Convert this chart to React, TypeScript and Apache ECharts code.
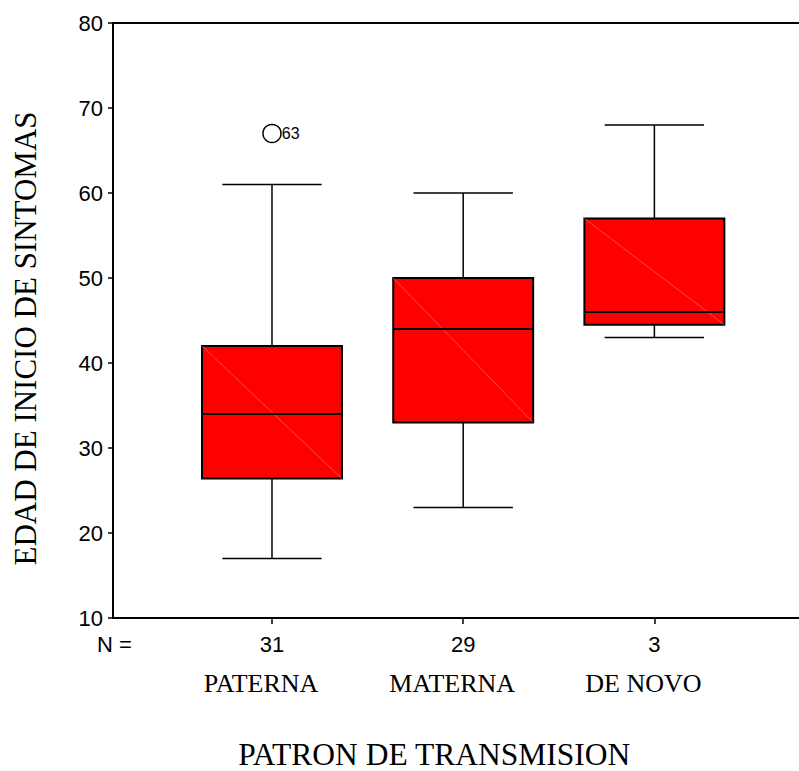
import React, { useEffect, useRef } from "react";
import * as echarts from "echarts";

const categories = ["PATERNA", "MATERNA", "DE NOVO"];
const counts = [31, 29, 3];
const whiskerLow = [17, 23, 43];
const quartile1 = [26.4, 33, 44.5];
const medians = [34, 44, 46];
const quartile3 = [42, 50, 57];
const whiskerHigh = [61, 60, 68];
const outlierGroup = [0];
const outlierValues = [67];
const outlierCases = ["63"];
const yMin = 10;
const yMax = 80;
const yStep = 10;

const SANS = "'Liberation Sans', Arial, sans-serif";
const SERIF = "'Liberation Serif', 'Times New Roman', serif";

export default function App() {
  const ref = useRef<HTMLDivElement>(null);

  useEffect(() => {
    if (!ref.current) return;
    const chart = echarts.init(ref.current, undefined, { renderer: "svg" });

    const boxData = categories.map((_, i) => [
      i,
      whiskerLow[i],
      quartile1[i],
      medians[i],
      quartile3[i],
      whiskerHigh[i],
    ]);
    const outlierData = outlierGroup.map((g, i) => ({
      value: [g, outlierValues[i]],
      name: outlierCases[i],
    }));

    const xMin = -0.8316;
    const xMax = 2.7564;
    const frameLine = { show: true, onZero: false, lineStyle: { color: "#000", width: 2 } };

    const option: any = {
      animation: false,
      backgroundColor: "#fff",
      grid: [
        { left: 113, right: 0, top: 23, height: 595, outerBoundsMode: "none", containLabel: false },
        { left: 176.4, top: 23, width: 573.6, height: 595, outerBoundsMode: "none", containLabel: false },
      ],
      xAxis: [
        {
          gridIndex: 0,
          type: "value",
          min: xMin,
          max: xMax,
          position: "bottom",
          axisLine: frameLine,
          axisTick: { show: false },
          axisLabel: { show: false },
          splitLine: { show: false },
        },
        {
          gridIndex: 1,
          type: "category",
          data: categories,
          axisLine: { show: false },
          axisTick: {
            show: true,
            alignWithLabel: true,
            length: 6,
            lineStyle: { color: "#000", width: 1.5 },
          },
          axisLabel: {
            margin: 14,
            interval: 0,
            formatter: (value: string, index: number) =>
              `{n|${counts[index]}}\n{c|${value}}`,
            rich: {
              n: {
                fontFamily: SANS,
                fontSize: 22,
                color: "#000",
                lineHeight: 24,
                align: "center",
              },
              c: {
                fontFamily: SERIF,
                fontSize: 26,
                color: "#000",
                lineHeight: 55,
                align: "center",
                padding: [0, 22, 0, 0],
              },
            },
          },
          name: "PATRON DE TRANSMISION",
          nameLocation: "middle",
          nameGap: 123,
          nameTextStyle: {
            fontFamily: SERIF,
            fontSize: 31.5,
            lineHeight: 26,
            color: "#000",
            padding: [0, 58, 0, 0],
          },
        },
        {
          gridIndex: 0,
          type: "value",
          min: xMin,
          max: xMax,
          position: "top",
          axisLine: frameLine,
          axisTick: { show: false },
          axisLabel: { show: false },
          splitLine: { show: false },
        },
      ],
      yAxis: [
        {
          gridIndex: 0,
          type: "value",
          min: yMin,
          max: yMax,
          interval: yStep,
          axisLine: frameLine,
          axisTick: {
            show: true,
            length: 5,
            lineStyle: { color: "#000", width: 1.5 },
          },
          axisLabel: {
            margin: 10,
            fontFamily: SANS,
            fontSize: 22,
            color: "#000",
            padding: [5, 0, 0, 0],
          },
          splitLine: { show: false },
          name: "EDAD DE INICIO DE SINTOMAS",
          nameLocation: "middle",
          nameRotate: 90,
          nameGap: 72,
          nameTextStyle: {
            fontFamily: SERIF,
            fontSize: 31,
            color: "#000",
            padding: [0, 36, 0, 0],
          },
        },
        {
          gridIndex: 1,
          type: "value",
          min: yMin,
          max: yMax,
          show: false,
        },
      ],
      graphic: [
        {
          type: "text",
          left: 97,
          top: 633,
          style: {
            text: "N =",
            fontFamily: SANS,
            fontSize: 22,
            fill: "#000",
          },
        },
      ],
      series: [
        {
          type: "custom",
          xAxisIndex: 0,
          yAxisIndex: 0,
          encode: { x: 0, y: [1, 2, 3, 4, 5] },
          data: boxData,
          renderItem: (params: any, api: any) => {
            const x = api.value(0);
            const pLo = api.coord([x, api.value(1)]);
            const pQ1 = api.coord([x, api.value(2)]);
            const pMd = api.coord([x, api.value(3)]);
            const pQ3 = api.coord([x, api.value(4)]);
            const pHi = api.coord([x, api.value(5)]);
            const unit = api.size([1, 0])[0];
            const bh = unit * 0.366;
            const ch = unit * 0.26;
            const cx = pMd[0];
            const ls = { stroke: "#000", lineWidth: 1.5 };
            return {
              type: "group",
              children: [
                { type: "line", shape: { x1: cx, y1: pHi[1], x2: cx, y2: pQ3[1] }, style: ls },
                { type: "line", shape: { x1: cx, y1: pQ1[1], x2: cx, y2: pLo[1] }, style: ls },
                { type: "line", shape: { x1: cx - ch, y1: pHi[1], x2: cx + ch, y2: pHi[1] }, style: ls },
                { type: "line", shape: { x1: cx - ch, y1: pLo[1], x2: cx + ch, y2: pLo[1] }, style: ls },
                {
                  type: "rect",
                  shape: { x: cx - bh, y: pQ3[1], width: 2 * bh, height: pQ1[1] - pQ3[1] },
                  style: { fill: "#ff0000", stroke: "#000", lineWidth: 2 },
                },
                {
                  type: "line",
                  shape: { x1: cx - bh, y1: pQ3[1], x2: cx + bh, y2: pQ1[1] },
                  style: { stroke: "#ff7a7a", lineWidth: 0.6 },
                },
                {
                  type: "line",
                  shape: { x1: cx - bh, y1: pMd[1], x2: cx + bh, y2: pMd[1] },
                  style: { stroke: "#000", lineWidth: 2 },
                },
              ],
            };
          },
        },
        {
          type: "scatter",
          xAxisIndex: 0,
          yAxisIndex: 0,
          data: outlierData,
          symbol: "circle",
          symbolSize: 18,
          itemStyle: { color: "#fff", borderColor: "#000", borderWidth: 1.5, opacity: 1 },
          label: {
            show: true,
            position: "right",
            distance: 0,
            formatter: (p: any) => p.name,
            fontFamily: SANS,
            fontSize: 16,
            color: "#000",
          },
        },
      ],
    };

    chart.setOption(option);
    return () => chart.dispose();
  }, []);

  return (
    <div
      ref={ref}
      style={{ position: "fixed", left: 0, top: 0, width: 799, height: 771 }}
    />
  );
}
